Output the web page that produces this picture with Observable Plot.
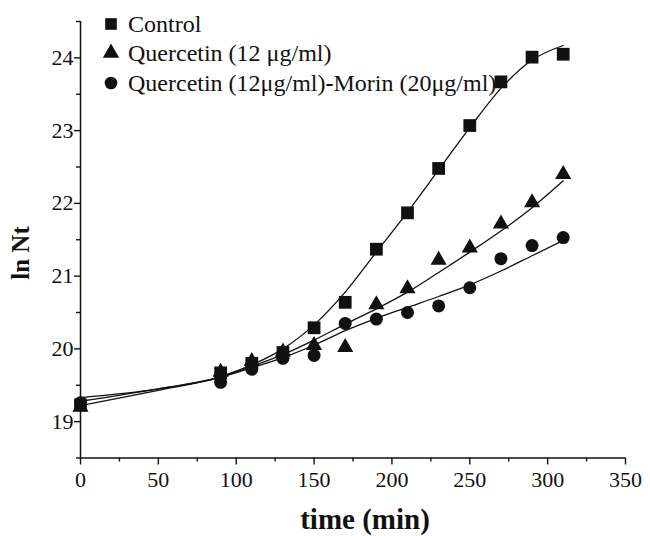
<!DOCTYPE html>
<html>
<head>
<meta charset="utf-8">
<script src="https://cdn.jsdelivr.net/npm/d3@7"></script>
<script src="https://cdn.jsdelivr.net/npm/@observablehq/plot@0.6"></script>
<style>
  html, body { margin: 0; padding: 0; background: #fff; }
  #wrap { position: relative; width: 650px; height: 536px; font-family: "Liberation Serif", "Times New Roman", serif; }
  #legend { position: absolute; left: 0; top: 0; }
</style>
</head>
<body>
<div id="wrap"></div>
<script>
// Measured data points
const times = [0, 90, 110, 130, 150, 170, 190, 210, 230, 250, 270, 290, 310];
const control = [19.23, 19.67, 19.80, 19.95, 20.29, 20.64, 21.37, 21.87, 22.48, 23.07, 23.67, 24.01, 24.05];
const quercetin = [19.20, 19.68, 19.83, 19.96, 20.05, 20.02, 20.61, 20.83, 21.22, 21.39, 21.72, 22.01, 22.40];
const combo = [19.26, 19.54, 19.72, 19.87, 19.91, 20.35, 20.41, 20.50, 20.59, 20.84, 21.24, 21.42, 21.53];

// Fitted curves
const fitTimes = [0, 50, 90, 110, 130, 150, 170, 190, 210, 230, 250, 270, 290, 310];
const controlFit = [19.33, 19.45, 19.62, 19.78, 20.00, 20.33, 20.78, 21.33, 21.88, 22.46, 23.04, 23.58, 23.97, 24.17];
const quercetinFit = [19.22, 19.43, 19.61, 19.76, 19.92, 20.12, 20.34, 20.55, 20.78, 21.05, 21.33, 21.62, 21.94, 22.31];
const comboFit = [19.28, 19.45, 19.61, 19.74, 19.88, 20.05, 20.25, 20.42, 20.57, 20.72, 20.88, 21.07, 21.28, 21.49];

const seriesNames = ["Control", "Quercetin (12 μg/ml)", "Quercetin (12μg/ml)-Morin (20μg/ml)"];
const seriesSymbols = ["square", "triangle", "circle"];
const xMajorTicks = [0, 50, 100, 150, 200, 250, 300, 350];
const xMinorTicks = [25, 75, 125, 175, 225, 275, 325];
const yMajorTicks = [19, 20, 21, 22, 23, 24];
const yMinorTicks = [18.5, 19.5, 20.5, 21.5, 22.5, 23.5, 24.5];

const seriesValues = [control, quercetin, combo];
const seriesFits = [controlFit, quercetinFit, comboFit];
const markerR = [7.2, 6.0, 6.5];

const points = seriesValues.flatMap((vals, i) => vals.map((v, j) => ({series: seriesNames[i], t: times[j], v})));
const fits = seriesFits.flatMap((vals, i) => vals.map((v, j) => ({series: seriesNames[i], t: fitTimes[j], v})));

const font = "'Liberation Serif', 'Times New Roman', serif";

const chart = Plot.plot({
  width: 650,
  height: 536,
  marginLeft: 80,
  marginRight: 25,
  marginTop: 21,
  marginBottom: 78.5,
  style: {fontFamily: font, color: "#111", background: "#fff", overflow: "visible"},
  x: {domain: [0, 350]},
  y: {domain: [18.5, 24.5]},
  symbol: {domain: seriesNames, range: seriesSymbols},
  marks: [
    Plot.axisX(xMinorTicks, {tickSize: 4, tickFormat: () => "", strokeWidth: 1.4, label: null}),
    Plot.axisX(xMajorTicks, {tickSize: 7, tickPadding: 6, fontSize: 22, fontFamily: font, strokeWidth: 1.4, label: null, tickFormat: d => String(d)}),
    Plot.axisY(yMinorTicks, {tickSize: 4, tickFormat: () => "", strokeWidth: 1.4, label: null}),
    Plot.axisY(yMajorTicks, {tickSize: 6, tickPadding: 1, fontSize: 22, fontFamily: font, strokeWidth: 1.4, label: null, tickFormat: d => String(d)}),
    Plot.ruleX([0], {stroke: "#111", strokeWidth: 1.5}),
    Plot.ruleY([18.5], {stroke: "#111", strokeWidth: 1.5}),
    Plot.line(fits, {x: "t", y: "v", z: "series", curve: "monotone-x", stroke: "#111", strokeWidth: 1.3}),
    ...seriesNames.map((name, i) =>
      Plot.dot(points.filter(d => d.series === name), {x: "t", y: "v", symbol: "series", fill: "#111", stroke: "none", r: markerR[i]})
    ),
    Plot.text(["time (min)"], {frameAnchor: "bottom", dx: 12, dy: 71, fontSize: 29, fontWeight: "bold", fontFamily: font, fill: "#111"}),
    Plot.text(["ln Nt"], {frameAnchor: "left", dx: -60, dy: 40, rotate: -90, fontSize: 25, fontWeight: "bold", fontFamily: font, fill: "#111"})
  ]
});

const wrap = document.getElementById("wrap");
wrap.appendChild(chart);

// Legend overlay
const leg = d3.select(wrap).append("svg")
  .attr("id", "legend")
  .attr("width", 650).attr("height", 110)
  .style("font-family", font);
const rowsY = [24, 53, 83];
const legendSizes = [135, 115, 125];
seriesNames.forEach((name, i) => {
  const g = leg.append("g").attr("transform", `translate(111,${rowsY[i]})`);
  const symType = {square: d3.symbolSquare, triangle: d3.symbolTriangle, circle: d3.symbolCircle}[seriesSymbols[i]];
  g.append("path").attr("d", d3.symbol(symType, legendSizes[i])()).attr("fill", "#111");
  const t = g.append("text").attr("x", 17).attr("dy", "0.35em").attr("font-size", 24).attr("fill", "#111");
  if (i === 2) {
    t.append("tspan").text("Quercetin (12μg/ml)");
    t.append("tspan").attr("font-weight", "bold").text("-");
    t.append("tspan").text("Morin (20μg/ml)");
  } else {
    t.text(name);
  }
});
</script>
</body>
</html>
